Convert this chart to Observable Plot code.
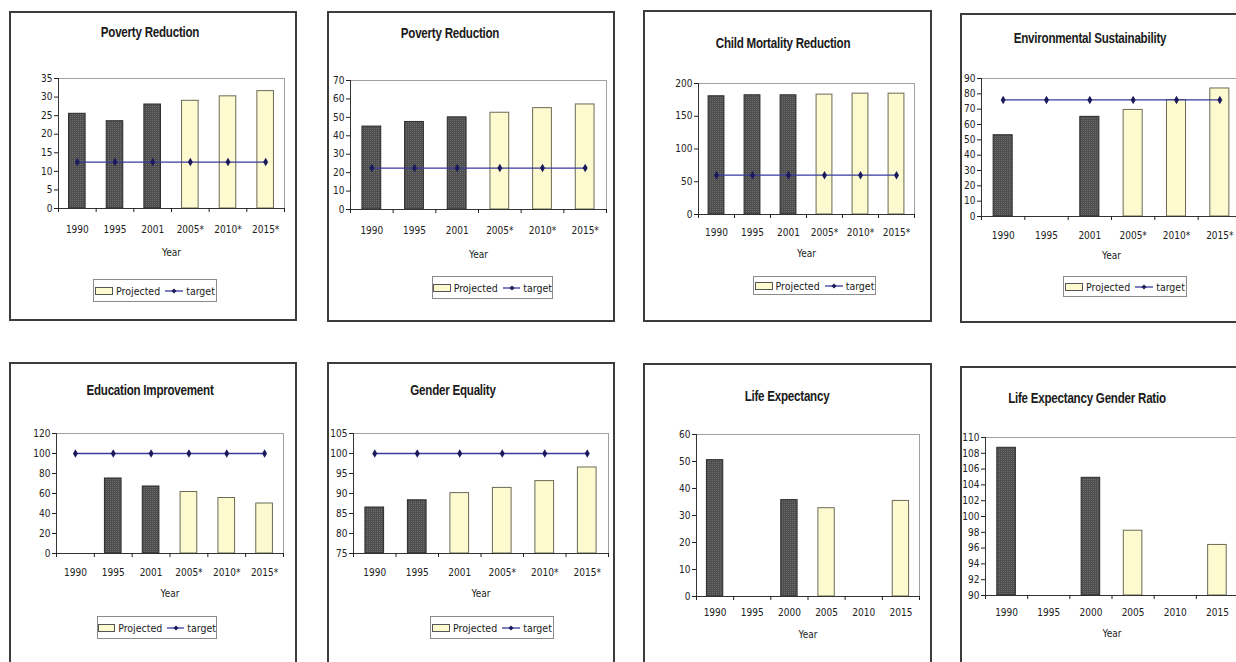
<!DOCTYPE html>
<html>
<head>
<meta charset="utf-8">
<script src="https://cdn.jsdelivr.net/npm/d3@7"></script>
<script src="https://cdn.jsdelivr.net/npm/@observablehq/plot@0.6"></script>
<style>
  html, body { margin: 0; padding: 0; background: #fff; }
  #page { position: relative; width: 1236px; height: 662px; overflow: hidden; background: #fff;
          font-family: "DejaVu Sans Condensed", "Liberation Sans Narrow", "Liberation Sans", Arial, sans-serif;
          font-stretch: condensed; }
  .box { position: absolute; border: 2px solid #3c3c3c; box-sizing: border-box; background: #fff; }
  .title { position: absolute; transform: translate(-50%, -50%) scaleX(0.8); white-space: nowrap;
           font-family: "Liberation Sans", Arial, sans-serif; font-stretch: normal;
           font-weight: bold; font-size: 14.5px; color: #1a1a1a; letter-spacing: -0.3px; }
  .plot { position: absolute; }
  .legend { position: absolute; box-sizing: border-box; border: 1px solid #8a8a8a; background: #fff;
            display: flex; align-items: center; justify-content: center; font-size: 10.5px; color: #222; gap: 3px; }
  .sw { display: inline-block; width: 16px; height: 6px; background: #fdfacf; border: 1px solid #555; }
</style>
</head>
<body>
<div id="page">
<svg width="0" height="0" style="position:absolute">
  <defs>
    <pattern id="dots" width="2" height="2" patternUnits="userSpaceOnUse">
      <rect width="2" height="2" fill="#4e4e4e"></rect>
      <rect width="1" height="1" fill="#6e6e6e"></rect>
    </pattern>
  </defs>
</svg>
</div>
<script>
// ---------- data ----------
const yearsProj = ["1990", "1995", "2001", "2005*", "2010*", "2015*"];
const yearsPlain = ["1990", "1995", "2000", "2005", "2010", "2015"];

const povertyA = [25.5, 23.5, 28.0, 29.0, 30.2, 31.6];
const povertyATarget = [12.5, 12.5, 12.5, 12.5, 12.5, 12.5];

const povertyB = [45.0, 47.5, 50.0, 52.5, 55.0, 57.0];
const povertyBTarget = [22.5, 22.5, 22.5, 22.5, 22.5, 22.5];

const childMortality = [180.5, 182.0, 182.0, 183.0, 184.5, 184.5];
const childMortalityTarget = [60, 60, 60, 60, 60, 60];

const environment = [53.0, null, 65.0, 69.5, 76.0, 83.5];
const environmentTarget = [76, 76, 76, 76, 76, 76];

const education = [null, 75.0, 67.0, 61.5, 55.5, 50.0];
const educationTarget = [100, 100, 100, 100, 100, 100];

const gender = [86.5, 88.3, 90.1, 91.4, 93.1, 96.5];
const genderTarget = [100, 100, 100, 100, 100, 100];

const lifeExpectancy = [50.5, null, 35.7, 32.7, null, 35.4];

const lifeGenderRatio = [108.7, null, 104.9, 98.2, null, 96.4];

const titles = ["Poverty Reduction", "Poverty Reduction", "Child Mortality Reduction", "Environmental Sustainability",
                "Education Improvement", "Gender Equality", "Life Expectancy", "Life Expectancy Gender Ratio"];

// ---------- panel definitions (data + layout) ----------
const panels = [
  {title: titles[0], years: yearsProj, values: povertyA, target: povertyATarget, projFrom: 3, y: [0, 35, 5],
   box: [9, 11, 297, 321], plot: [58, 284, 78, 208], titleAt: [150, 32], lab: 17, year: 44, legend: [93, 279, 217, 302]},
  {title: titles[1], years: yearsProj, values: povertyB, target: povertyBTarget, projFrom: 3, y: [0, 70, 10],
   box: [327, 11, 615, 322], plot: [350, 606, 80, 209], titleAt: [450, 33], lab: 17, year: 45, legend: [432, 276, 553, 299]},
  {title: titles[2], years: yearsProj, values: childMortality, target: childMortalityTarget, projFrom: 3, y: [0, 200, 50],
   box: [643, 10, 932, 322], plot: [698, 914, 83, 214], titleAt: [783, 43], lab: 14, year: 39, legend: [753, 276, 876, 295]},
  {title: titles[3], years: yearsProj, values: environment, target: environmentTarget, projFrom: 3, y: [0, 90, 10],
   box: [960, 13, 1250, 323], plot: [981, 1241, 78, 216], titleAt: [1090, 38], lab: 15, year: 39, legend: [1063, 276, 1187, 297]},
  {title: titles[4], years: yearsProj, values: education, target: educationTarget, projFrom: 3, y: [0, 120, 20],
   box: [9, 362, 297, 700], plot: [56, 283, 433, 553], titleAt: [150, 390], lab: 15, year: 40, legend: [97, 616, 217, 639]},
  {title: titles[5], years: yearsProj, values: gender, target: genderTarget, projFrom: 2, y: [75, 105, 5],
   box: [327, 362, 615, 700], plot: [353, 608, 433, 553], titleAt: [453, 390], lab: 15, year: 40, legend: [430, 616, 554, 639]},
  {title: titles[6], years: yearsPlain, values: lifeExpectancy, target: null, projFrom: 3, y: [0, 60, 10],
   box: [643, 363, 932, 700], plot: [696, 919, 434, 596], titleAt: [787, 396], lab: 12, year: 38, legend: null},
  {title: titles[7], years: yearsPlain, values: lifeGenderRatio, target: null, projFrom: 3, y: [90, 110, 2],
   box: [960, 366, 1250, 700], plot: [985, 1238, 437, 595], titleAt: [1087, 398], lab: 13, year: 38, legend: null}
];

const page = document.getElementById("page");
const ML = 36, MR = 4, MT = 6, MB = 52;
const font = '"DejaVu Sans Condensed", "Liberation Sans Narrow", "Liberation Sans", Arial, sans-serif';

for (const p of panels) {
  const [bl, bt, br, bb] = p.box;
  const box = document.createElement("div");
  box.className = "box";
  Object.assign(box.style, {left: bl + "px", top: bt + "px", width: (br - bl) + "px", height: (bb - bt) + "px"});
  page.appendChild(box);

  const t = document.createElement("div");
  t.className = "title";
  t.textContent = p.title;
  t.style.left = p.titleAt[0] + "px";
  t.style.top = p.titleAt[1] + "px";
  page.appendChild(t);

  const [x0, x1, y0, y1] = p.plot;
  const [ymin, ymax, ystep] = p.y;
  const n = p.years.length;
  const rows = p.values.map((v, i) => ({i, v})).filter(d => d.v != null);
  const actual = rows.filter(d => d.i < p.projFrom);
  const projected = rows.filter(d => d.i >= p.projFrom);
  const tgt = p.target ? p.target.map((v, i) => ({i, v})) : [];

  const chart = Plot.plot({
    width: (x1 - x0) + ML + MR,
    height: (y1 - y0) + MT + MB,
    marginLeft: ML, marginRight: MR, marginTop: MT, marginBottom: MB,
    style: {fontFamily: font, fontStretch: "condensed", fontSize: "10px", color: "#222", background: "transparent", overflow: "visible"},
    x: {domain: [0, n], axis: null},
    y: {domain: [ymin, ymax], axis: null},
    marks: [
      Plot.frame({stroke: "#a0a0a0"}),
      Plot.rect(actual, {x1: d => d.i + 0.28, x2: d => d.i + 0.72, y1: ymin, y2: "v",
                         fill: "url(#dots)", stroke: "#2a2a2a", strokeWidth: 1}),
      Plot.rect(projected, {x1: d => d.i + 0.28, x2: d => d.i + 0.72, y1: ymin, y2: "v",
                            fill: "#fdfacf", stroke: "#6a6a55", strokeWidth: 1}),
      Plot.ruleX([0], {stroke: "#333"}),
      Plot.ruleY([ymin], {stroke: "#333"}),
      Plot.axisY({ticks: d3.range(ymin, ymax + ystep / 2, ystep), tickSize: 4, tickPadding: 2, label: null,
                  tickFormat: d => String(d)}),
      Plot.axisX({ticks: d3.range(0, n + 1), tickSize: 4, tickFormat: () => "", label: null}),
      Plot.axisX({ticks: d3.range(n).map(i => i + 0.5), tickSize: 0, tickPadding: p.lab, label: null,
                  tickFormat: d => p.years[Math.floor(d)]}),
      Plot.line(tgt, {x: d => d.i + 0.5, y: "v", stroke: "#3a3a9e", strokeWidth: 1.3}),
      Plot.dot(tgt, {x: d => d.i + 0.5, y: "v", symbol: "diamond", r: 2.6, fill: "#1a1a5c"}),
      Plot.text(["Year"], {text: d => d, frameAnchor: "bottom", dy: p.year, lineAnchor: "middle", fontSize: 10})
    ]
  });
  chart.classList.add("plot");
  chart.style.left = (x0 - ML) + "px";
  chart.style.top = (y0 - MT) + "px";
  page.appendChild(chart);

  if (p.legend) {
    const [ll, lt, lr, lb] = p.legend;
    const lg = document.createElement("div");
    lg.className = "legend";
    Object.assign(lg.style, {left: ll + "px", top: lt + "px", width: (lr - ll) + "px", height: (lb - lt) + "px"});
    lg.innerHTML = '<span class="sw"></span><span>Projected</span>' +
      '<svg width="18" height="8" style="margin-left:2px"><line x1="0" y1="4" x2="18" y2="4" stroke="#3a3a9e" stroke-width="1.3"/>' +
      '<path d="M9 1.5 L11.5 4 L9 6.5 L6.5 4 Z" fill="#1a1a5c"/></svg><span>target</span>';
    page.appendChild(lg);
  }
}
</script>
</body>
</html>
